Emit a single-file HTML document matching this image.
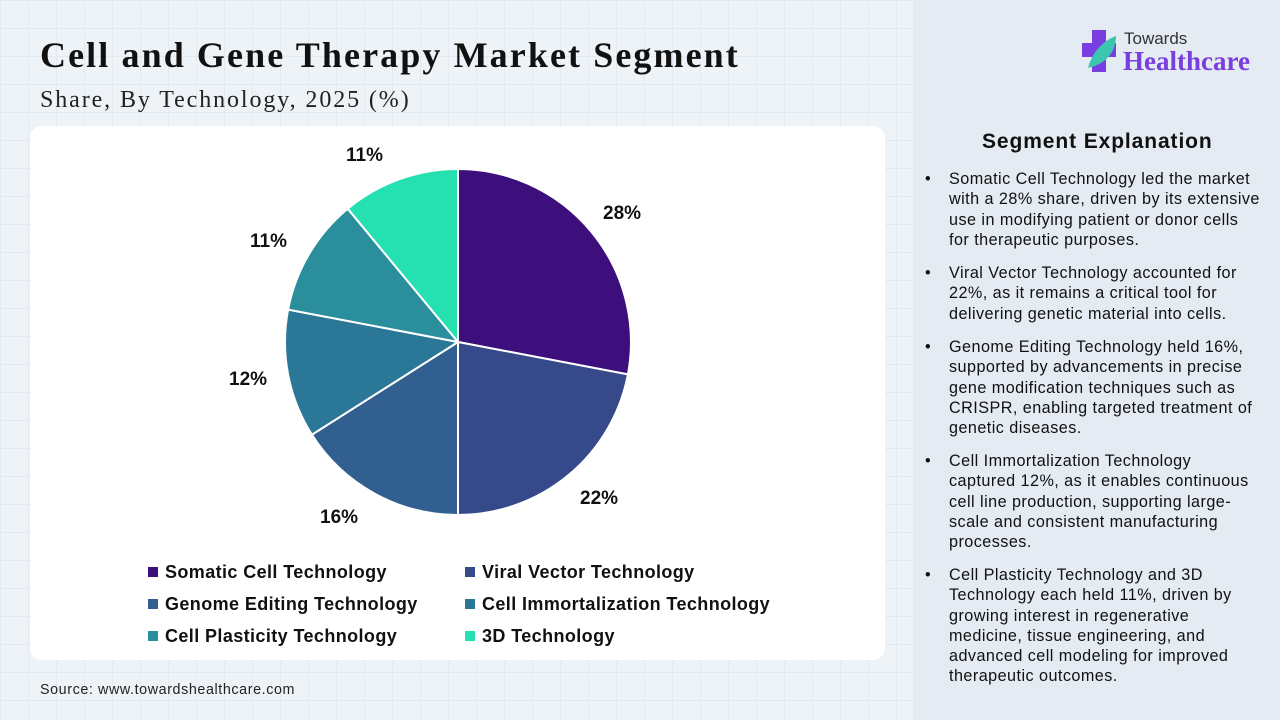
<!DOCTYPE html>
<html><head><meta charset="utf-8"><style>
*{margin:0;padding:0;box-sizing:border-box}
body{width:1280px;height:720px;position:relative;overflow:hidden;font-family:"Liberation Sans",sans-serif;
background-color:#eef3f8;
background-image:linear-gradient(#e2e9f1 1px,transparent 1px),linear-gradient(90deg,#e2e9f1 1px,transparent 1px);background-size:28px 28px}
.t{position:absolute;white-space:nowrap}
#right{position:absolute;left:913px;top:0;width:367px;height:720px;background:#e5ebf3}
#card{position:absolute;left:30px;top:126px;width:855px;height:534px;background:#fff;border-radius:12px}
.lg{position:absolute;font-weight:bold;font-size:18px;letter-spacing:0.4px;color:#111;white-space:nowrap}
.lg i{display:inline-block;width:10px;height:10px;margin-right:7px;vertical-align:1px}
.b{position:absolute;left:949px;font-size:16.2px;letter-spacing:0.45px;line-height:20.3px;color:#111;white-space:nowrap}
.b:before{content:"•";position:absolute;left:-24px}
.pl{position:absolute;font-weight:bold;font-size:19px;color:#111}
</style></head><body>
<div id="right"></div>
<div class="t" style="left:40px;top:34px;font-family:'Liberation Serif',serif;font-weight:bold;font-size:36px;letter-spacing:2.1px;color:#111">Cell and Gene Therapy Market Segment</div>
<div class="t" style="left:40px;top:87px;font-family:'Liberation Serif',serif;font-size:24px;letter-spacing:1.9px;color:#222">Share, By Technology, 2025 (%)</div>
<div id="card"></div>
<svg style="position:absolute;left:0;top:0" width="1280" height="720">
<g stroke="#fff" stroke-width="2">
<path d="M458,342 L458,169 A173,173 0 0 1 627.9,374.4Z" fill="#3d0f7d"/>
<path d="M458,342 L627.9,374.4 A173,173 0 0 1 458,515Z" fill="#364a8b"/>
<path d="M458,342 L458,515 A173,173 0 0 1 311.9,434.7Z" fill="#305f90"/>
<path d="M458,342 L311.9,434.7 A173,173 0 0 1 288.1,309.6Z" fill="#2b7797"/>
<path d="M458,342 L288.1,309.6 A173,173 0 0 1 347.7,208.7Z" fill="#2a8e9c"/>
<path d="M458,342 L347.7,208.7 A173,173 0 0 1 458,169Z" fill="#25e0b0"/>
</g>
<g transform="translate(1082,30)">
<rect x="10" y="0" width="14" height="42" fill="#7a3ee0"/>
<rect x="0" y="13" width="34" height="14" fill="#7a3ee0"/>
<path d="M6,38 C10,22 22,10 34,6 C34,22 24,34 6,38Z" fill="#3cc6b0"/>
</g>
</svg>
<div class="t" style="left:1124px;top:29px;font-size:17px;color:#333">Towards</div>
<div class="t" style="left:1123px;top:46px;font-family:'Liberation Serif',serif;font-weight:bold;font-size:27px;color:#7a3ee0">Healthcare</div>
<div class="pl" style="left:603px;top:203px">28%</div>
<div class="pl" style="left:580px;top:488px">22%</div>
<div class="pl" style="left:320px;top:507px">16%</div>
<div class="pl" style="left:229px;top:369px">12%</div>
<div class="pl" style="left:250px;top:231px">11%</div>
<div class="pl" style="left:346px;top:145px">11%</div>
<div class="lg" style="left:148px;top:562px"><i style="background:#3d0f7d"></i>Somatic Cell Technology</div>
<div class="lg" style="left:465px;top:562px"><i style="background:#364a8b"></i>Viral Vector Technology</div>
<div class="lg" style="left:148px;top:594px"><i style="background:#305f90"></i>Genome Editing Technology</div>
<div class="lg" style="left:465px;top:594px"><i style="background:#2b7797"></i>Cell Immortalization Technology</div>
<div class="lg" style="left:148px;top:626px"><i style="background:#2a8e9c"></i>Cell Plasticity Technology</div>
<div class="lg" style="left:465px;top:626px"><i style="background:#25e0b0"></i>3D Technology</div>
<div class="t" style="left:40px;top:682px;font-size:14.3px;letter-spacing:0.6px;color:#222">Source: www.towardshealthcare.com</div>
<div class="t" style="left:982px;top:130px;font-weight:bold;font-size:21px;letter-spacing:0.9px;color:#111">Segment Explanation</div>
<div class="b" style="top:169px">Somatic Cell Technology led the market<br>with a 28% share, driven by its extensive<br>use in modifying patient or donor cells<br>for therapeutic purposes.</div>
<div class="b" style="top:263px">Viral Vector Technology accounted for<br>22%, as it remains a critical tool for<br>delivering genetic material into cells.</div>
<div class="b" style="top:337px">Genome Editing Technology held 16%,<br>supported by advancements in precise<br>gene modification techniques such as<br>CRISPR, enabling targeted treatment of<br>genetic diseases.</div>
<div class="b" style="top:451px">Cell Immortalization Technology<br>captured 12%, as it enables continuous<br>cell line production, supporting large-<br>scale and consistent manufacturing<br>processes.</div>
<div class="b" style="top:565px">Cell Plasticity Technology and 3D<br>Technology each held 11%, driven by<br>growing interest in regenerative<br>medicine, tissue engineering, and<br>advanced cell modeling for improved<br>therapeutic outcomes.</div>
</body></html>
